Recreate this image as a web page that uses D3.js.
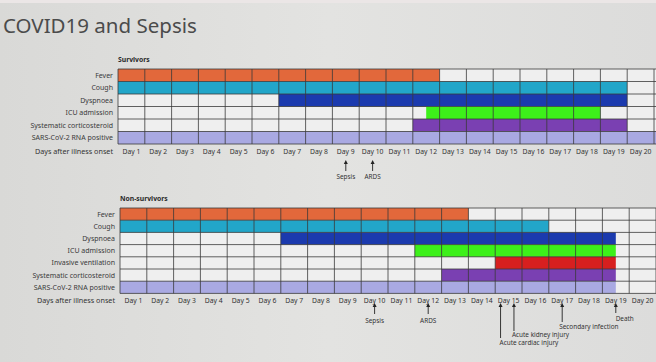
<!DOCTYPE html>
<html>
<head>
<meta charset="utf-8">
<script src="https://d3js.org/d3.v7.min.js"></script>
<style>
  html, body { margin: 0; padding: 0; background: #dddddb; }
  svg { display: block; }
  text { font-family: "Noto Sans", "Open Sans", sans-serif; }
</style>
</head>
<body>
<svg id="chart" width="656" height="362"></svg>
<script>
// Day labels along the bottom of each grid
const dayLabels = ["Day 1", "Day 2", "Day 3", "Day 4", "Day 5", "Day 6", "Day 7", "Day 8", "Day 9", "Day 10",
                   "Day 11", "Day 12", "Day 13", "Day 14", "Day 15", "Day 16", "Day 17", "Day 18", "Day 19", "Day 20"];

// Survivors: row names, bar start / end (days after onset)
const survRows  = ["Fever", "Cough", "Dyspnoea", "ICU admission", "Systematic corticosteroid", "SARS-CoV-2 RNA positive"];
const survStart = [0, 0, 6, 11.5, 11, 0];
const survEnd   = [12, 19, 19, 18, 19, 21];
const survEvents = ["Sepsis", "ARDS"];
const survEventDay = [8.5, 9.5];

// Non-survivors
const nonRows  = ["Fever", "Cough", "Dyspnoea", "ICU admission", "Invasive ventilation", "Systematic corticosteroid", "SARS-CoV-2 RNA positive"];
const nonStart = [0, 0, 6, 11, 14, 12, 0];
const nonEnd   = [13, 16, 18.5, 18.5, 18.5, 18.5, 18.5];
const nonEvents = ["Sepsis", "ARDS", "Acute cardiac injury", "Acute kidney injury", "Secondary infection", "Death"];
const nonEventDay = [9.5, 11.5, 14.2, 14.7, 16.5, 18.5];

// Colours per row
const colors = {
  "Fever": "#e2683b",
  "Cough": "#22a6c9",
  "Dyspnoea": "#1b3aae",
  "ICU admission": "#3df01a",
  "Invasive ventilation": "#d71f1f",
  "Systematic corticosteroid": "#7a40b2",
  "SARS-CoV-2 RNA positive": "#a9a9e2"
};

const svg = d3.select("#chart");
const W = 656, H = 362;

// Background (photo of a slide, slightly uneven)
const defs = svg.append("defs");
const grad = defs.append("linearGradient").attr("id", "bg").attr("x1", 0).attr("x2", 1).attr("y1", 0).attr("y2", 0);
grad.append("stop").attr("offset", "0%").attr("stop-color", "#d9d9d7");
grad.append("stop").attr("offset", "50%").attr("stop-color", "#e3e3e1");
grad.append("stop").attr("offset", "100%").attr("stop-color", "#dcdcdb");
svg.append("rect").attr("width", W).attr("height", H).attr("fill", "url(#bg)");
svg.append("rect").attr("width", W).attr("height", 3).attr("fill", "#ebe6e6");

// Title
svg.append("text")
    .attr("x", 3).attr("y", 33)
    .attr("font-size", 20.5)
    .attr("fill", "#4b4b4b")
    .text("COVID19 and Sepsis");

// Draws one timeline grid
function drawPanel(opts) {
  const g = svg.append("g");
  const nCols = dayLabels.length + 1;   // grid runs on past the last label
  const x = d3.scaleLinear().domain([0, 20]).range([opts.left, opts.left + 20 * 26.8]);
  const y = d3.scaleBand().domain(opts.rows).range([opts.top, opts.top + opts.rows.length * opts.rowH]);

  // panel heading
  g.append("text")
      .attr("x", opts.left).attr("y", opts.top - 7)
      .attr("font-size", 6.8).attr("font-weight", "bold").attr("fill", "#2a2a2a")
      .text(opts.title);

  // empty cells
  g.append("rect")
      .attr("x", x(0)).attr("y", opts.top)
      .attr("width", x(nCols) - x(0)).attr("height", y.range()[1] - opts.top)
      .attr("fill", "#efefef");

  // bars
  g.selectAll(".bar")
    .data(opts.rows)
    .enter().append("rect")
      .attr("class", "bar")
      .attr("x", (d, i) => x(opts.start[i]))
      .attr("y", d => y(d))
      .attr("width", (d, i) => x(opts.end[i]) - x(opts.start[i]))
      .attr("height", y.bandwidth())
      .attr("fill", d => colors[d]);

  // grid lines
  g.selectAll(".vline")
    .data(d3.range(nCols + 1))
    .enter().append("line")
      .attr("x1", d => x(d)).attr("x2", d => x(d))
      .attr("y1", opts.top).attr("y2", y.range()[1])
      .attr("stroke", "#3a3a3a").attr("stroke-width", 0.8);
  g.selectAll(".hline")
    .data(d3.range(opts.rows.length + 1))
    .enter().append("line")
      .attr("x1", x(0)).attr("x2", x(nCols))
      .attr("y1", d => opts.top + d * opts.rowH).attr("y2", d => opts.top + d * opts.rowH)
      .attr("stroke", "#3a3a3a").attr("stroke-width", 0.8);

  // row labels
  g.selectAll(".rlabel")
    .data(opts.rows)
    .enter().append("text")
      .attr("x", opts.left - 5)
      .attr("y", d => y(d) + y.bandwidth() / 2 + 2.4)
      .attr("text-anchor", "end")
      .attr("font-size", 7).attr("fill", "#3a3a3a")
      .text(d => d);

  const axisY = y.range()[1] + 10;
  g.append("text")
      .attr("x", opts.left - 5).attr("y", axisY)
      .attr("text-anchor", "end")
      .attr("font-size", 7.2).attr("fill", "#333")
      .text("Days after illness onset");

  g.selectAll(".dlabel")
    .data(dayLabels)
    .enter().append("text")
      .attr("x", (d, i) => x(i + 0.5))
      .attr("y", axisY)
      .attr("text-anchor", "middle")
      .attr("font-size", 6.8).attr("fill", "#333")
      .text(d => d);

  // event arrows
  opts.events.forEach(function(ev, i) {
    const ax = x(opts.eventDay[i]);
    const a = opts.arrows[i];
    g.append("line")
        .attr("x1", ax).attr("x2", ax)
        .attr("y1", a.y1 + 3).attr("y2", a.y2)
        .attr("stroke", "#222").attr("stroke-width", 0.9);
    g.append("path")
        .attr("d", `M${ax},${a.y1} L${ax - 2},${a.y1 + 4} L${ax + 2},${a.y1 + 4} Z`)
        .attr("fill", "#222");
    g.append("text")
        .attr("x", ax + a.dx).attr("y", a.ty)
        .attr("text-anchor", a.anchor)
        .attr("font-size", 6.4).attr("fill", "#333")
        .text(ev);
  });
}

drawPanel({
  title: "Survivors",
  rows: survRows, start: survStart, end: survEnd,
  events: survEvents, eventDay: survEventDay,
  left: 118, top: 69, rowH: 12.5,
  arrows: [
    {y1: 160, y2: 171, ty: 179, dx: 0, anchor: "middle"},
    {y1: 160, y2: 171, ty: 179, dx: 0, anchor: "middle"}
  ]
});

drawPanel({
  title: "Non-survivors",
  rows: nonRows, start: nonStart, end: nonEnd,
  events: nonEvents, eventDay: nonEventDay,
  left: 120, top: 208, rowH: 12.2,
  arrows: [
    {y1: 303, y2: 314, ty: 323, dx: 0, anchor: "middle"},
    {y1: 303, y2: 314, ty: 323, dx: 0, anchor: "middle"},
    {y1: 303, y2: 338, ty: 345, dx: -1, anchor: "start"},
    {y1: 303, y2: 331, ty: 337, dx: -2, anchor: "start"},
    {y1: 303, y2: 322, ty: 329, dx: -3, anchor: "start"},
    {y1: 303, y2: 313, ty: 321, dx: 18, anchor: "end"}
  ]
});
</script>
</body>
</html>
